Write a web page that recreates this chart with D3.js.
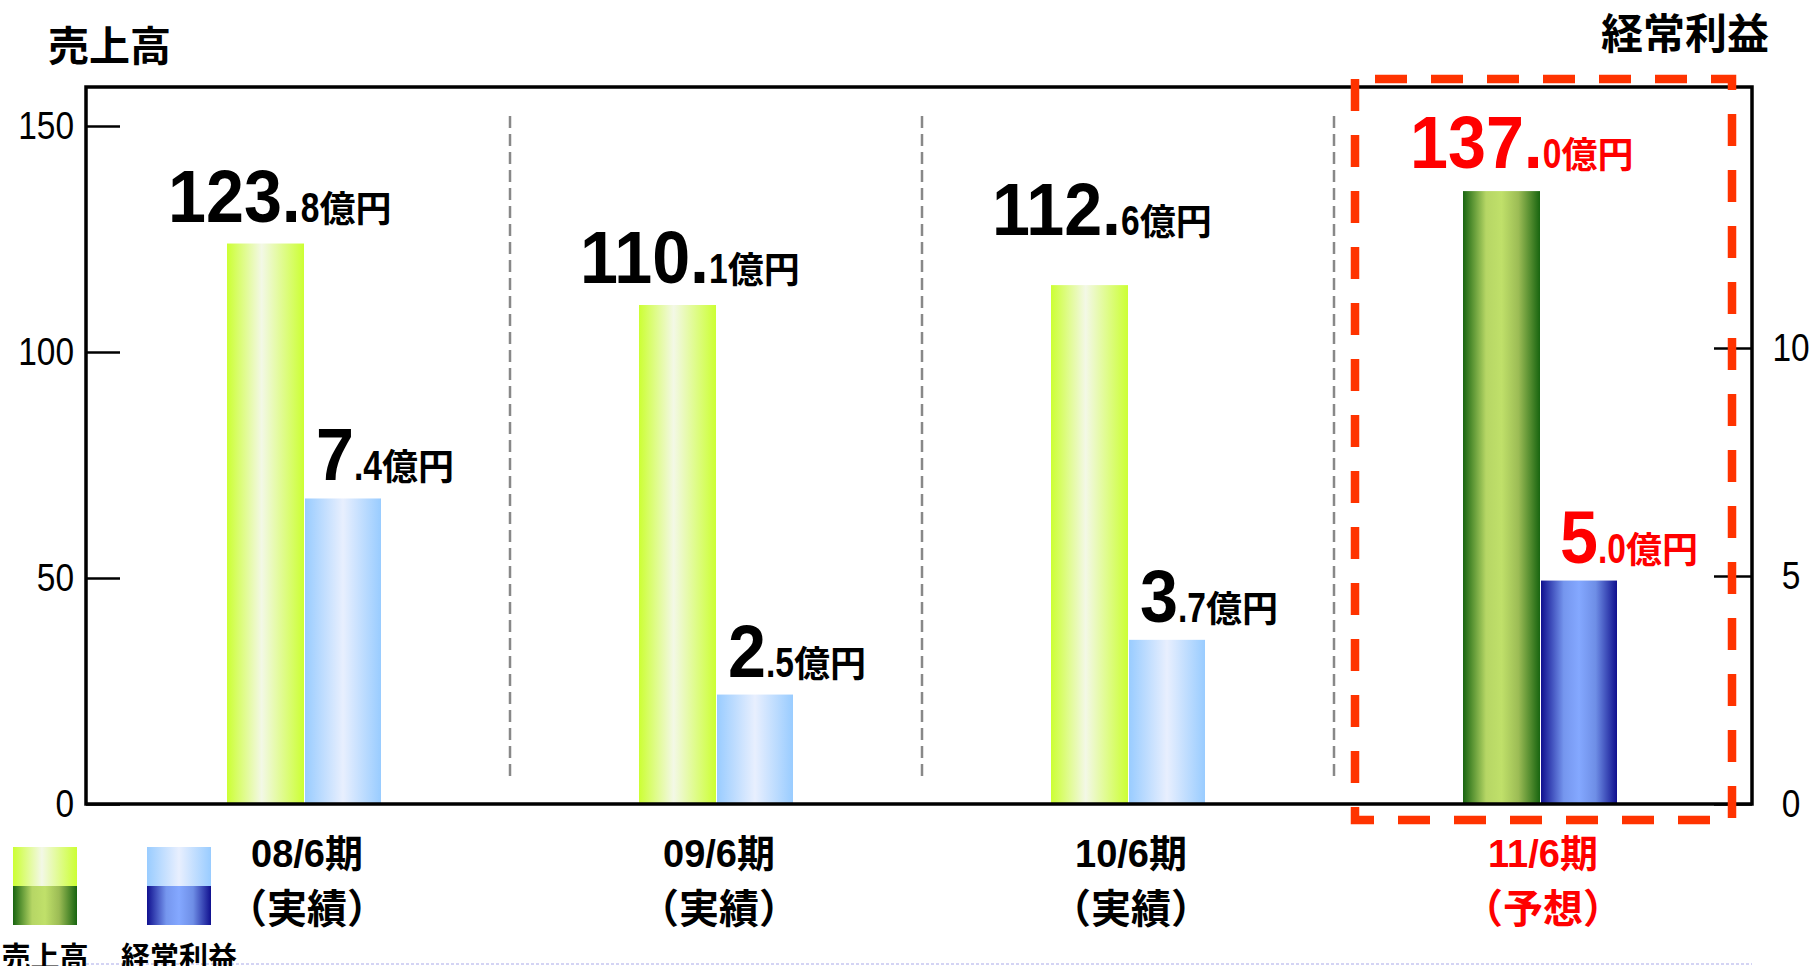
<!DOCTYPE html>
<html>
<head>
<meta charset="utf-8">
<script src="https://cdn.jsdelivr.net/npm/d3@7"></script>
<style>
  body { margin: 0; background: #fff; }
  svg { display: block; }
</style>
</head>
<body>
<div id="chart"></div>
<script>
// values
const periods = ["08/6期", "09/6期", "10/6期", "11/6期"];
const periodNotes = ["（実績）", "（実績）", "（実績）", "（予想）"];
const forecast = [false, false, false, true];
// bar heights as drawn
const sales = [124.0, 110.4, 114.8, 135.6];
const profit = [6.7, 2.4, 3.6, 4.9];
// numbers written above the bars
const salesLabel = [123.8, 110.1, 112.6, 137.0];
const profitLabel = [7.4, 2.5, 3.7, 5.0];
const leftTicks = [0, 50, 100, 150];
const rightTicks = [0, 5, 10];
const legendNames = ["売上高", "経常利益"];

const W = 1816, H = 966;
const frame = { left: 86, top: 87, right: 1752, bottom: 804 };
const barW = 77;
const latin = "'Liberation Sans', 'Noto Sans CJK JP', sans-serif";
const cjk = "'Noto Sans CJK JP', sans-serif";
// green labels sit higher on the third bar
const salesLift = [22, 22, 50, 23];

const svg = d3.select("#chart").append("svg")
    .attr("width", W)
    .attr("height", H);

const defs = svg.append("defs");
function grad(id, stops) {
    const g = defs.append("linearGradient").attr("id", id)
        .attr("x1", "0%").attr("x2", "100%").attr("y1", "0%").attr("y2", "0%");
    stops.forEach(s => g.append("stop").attr("offset", s[0]).attr("stop-color", s[1]));
}
grad("greenLight", [[0, "#ccff33"], [0.45, "#f3f8e6"], [1, "#ccff33"]]);
grad("blueLight", [[0, "#99ccff"], [0.5, "#e8effe"], [1, "#99ccff"]]);
grad("greenDark", [[0, "#186510"], [0.3, "#b6d665"], [0.5, "#c0e06a"], [0.72, "#9cbc55"], [1, "#186510"]]);
grad("blueDark", [[0, "#10108f"], [0.3, "#7596ee"], [0.5, "#84a8ff"], [0.72, "#6e8ee6"], [1, "#10108f"]]);

const x = d3.scaleBand().domain(periods).range([98, 1746]).padding(0);
const y = d3.scaleLinear().domain([0, 150]).range([frame.bottom, 126]);
const y2 = d3.scaleLinear().domain([0, 10]).range([frame.bottom, 348]);
const center = i => x(periods[i]) + x.bandwidth() / 2;

// bottom lavender rule
svg.append("line")
    .attr("x1", frame.left).attr("x2", frame.right)
    .attr("y1", 964).attr("y2", 964)
    .attr("stroke", "#d4d4f4").attr("stroke-width", 2)
    .attr("stroke-dasharray", "3 2");

// grey separators between periods
svg.selectAll("line.sep")
    .data(periods.slice(1))
    .enter().append("line")
    .attr("class", "sep")
    .attr("x1", d => x(d)).attr("x2", d => x(d))
    .attr("y1", 116).attr("y2", 780)
    .attr("stroke", "#888").attr("stroke-width", 2.5)
    .attr("stroke-dasharray", "12 6");

// bars
svg.selectAll("rect.sales")
    .data(sales)
    .enter().append("rect")
    .attr("class", "sales")
    .attr("x", (d, i) => center(i) - barW)
    .attr("y", d => y(d))
    .attr("width", barW)
    .attr("height", d => y(0) - y(d))
    .attr("fill", (d, i) => forecast[i] ? "url(#greenDark)" : "url(#greenLight)");

svg.selectAll("rect.profit")
    .data(profit)
    .enter().append("rect")
    .attr("class", "profit")
    .attr("x", (d, i) => center(i) + 1)
    .attr("y", d => y2(d))
    .attr("width", barW - 1)
    .attr("height", d => y2(0) - y2(d))
    .attr("fill", (d, i) => forecast[i] ? "url(#blueDark)" : "url(#blueLight)");

// frame
svg.append("rect")
    .attr("x", frame.left).attr("y", frame.top)
    .attr("width", frame.right - frame.left)
    .attr("height", frame.bottom - frame.top)
    .attr("fill", "none").attr("stroke", "#000").attr("stroke-width", 3.5);

// axes
const leftAxis = svg.append("g")
    .attr("transform", `translate(${frame.left},0)`)
    .call(d3.axisLeft(y).tickValues(leftTicks).tickSize(-34));
const rightAxis = svg.append("g")
    .attr("transform", `translate(${frame.right},0)`)
    .call(d3.axisRight(y2).tickValues(rightTicks).tickSize(-38));
[leftAxis, rightAxis].forEach(a => {
    a.select(".domain").remove();
    a.selectAll(".tick line").attr("stroke", "#000").attr("stroke-width", 2.5);
    a.selectAll("text")
        .attr("font-family", latin)
        .attr("font-size", 38)
        .attr("fill", "#000")
        .attr("x", 0);
});
leftAxis.selectAll("text").attr("transform", "translate(-12,0) scale(0.88,1)");
rightAxis.selectAll("text").attr("text-anchor", "middle")
    .attr("transform", "translate(39,0) scale(0.88,1)");

// axis titles
svg.append("text")
    .attr("x", 48).attr("y", 61)
    .attr("font-family", cjk).attr("font-weight", 700).attr("font-size", 41)
    .text("売上高");
svg.append("text")
    .attr("x", 1601).attr("y", 49)
    .attr("font-family", cjk).attr("font-weight", 700).attr("font-size", 42)
    .text("経常利益");

// value labels: big whole part, smaller narrow decimal, then 億円
function valueLabel(x0, y0, big, small, color) {
    const g = svg.append("g").attr("transform", `translate(${x0},${y0})`);
    const parts = [
        { t: big, size: 75, sx: 0.91, font: latin },
        { t: small, size: 43, sx: 0.78, font: latin },
        { t: "億円", size: 36, sx: 1, font: cjk }
    ];
    let cx = 0;
    parts.forEach(p => {
        const t = g.append("text")
            .attr("font-family", p.font).attr("font-weight", 700)
            .attr("font-size", p.size).attr("fill", color)
            .attr("transform", `translate(${cx},0) scale(${p.sx},1)`)
            .text(p.t);
        cx += t.node().getComputedTextLength() * p.sx;
    });
}
salesLabel.forEach((v, i) => {
    const s = v.toFixed(1).split(".");
    valueLabel(center(i) - barW - (forecast[i] ? 53 : 59), y(sales[i]) - salesLift[i],
        s[0] + ".", s[1], forecast[i] ? "#ff0000" : "#000");
});
profitLabel.forEach((v, i) => {
    const s = v.toFixed(1).split(".");
    valueLabel(center(i) + (forecast[i] ? 20 : 12), y2(profit[i]) - 18,
        s[0], "." + s[1], forecast[i] ? "#ff0000" : "#000");
});

// forecast box
const bx0 = x(periods[3]) + 21, bx1 = x(periods[3]) + x.bandwidth() - 14;
const by0 = y(150) - 47, by1 = y(0) + 16;
svg.append("path")
    .attr("d", d3.line()([[bx0, by0], [bx0, by1], [bx1, by1], [bx1, by0]]) + "Z")
    .attr("fill", "none")
    .attr("stroke", "#ff3300")
    .attr("stroke-width", 8.5)
    .attr("stroke-dasharray", "32 24");

// period labels
periods.forEach((p, i) => {
    const col = forecast[i] ? "#ff0000" : "#000";
    svg.append("text")
        .attr("x", center(i) + 3).attr("y", 867)
        .attr("text-anchor", "middle")
        .attr("font-family", latin).attr("font-weight", 700).attr("font-size", 38)
        .attr("fill", col)
        .text(p);
    svg.append("text")
        .attr("x", center(i) + 3).attr("y", 923)
        .attr("text-anchor", "middle")
        .attr("font-family", cjk).attr("font-weight", 700).attr("font-size", 40)
        .attr("fill", col)
        .text(periodNotes[i]);
});

// legend
const legendX = [13, 147];
const legendFills = [["url(#greenLight)", "url(#greenDark)"], ["url(#blueLight)", "url(#blueDark)"]];
legendNames.forEach((name, i) => {
    svg.append("rect").attr("x", legendX[i]).attr("y", 847)
        .attr("width", 64).attr("height", 39).attr("fill", legendFills[i][0]);
    svg.append("rect").attr("x", legendX[i]).attr("y", 886)
        .attr("width", 64).attr("height", 39).attr("fill", legendFills[i][1]);
    svg.append("text")
        .attr("x", legendX[i] + 32).attr("y", 968)
        .attr("text-anchor", "middle")
        .attr("font-family", cjk).attr("font-weight", 700).attr("font-size", 29)
        .attr("fill", "#000")
        .text(name);
});
</script>
</body>
</html>
